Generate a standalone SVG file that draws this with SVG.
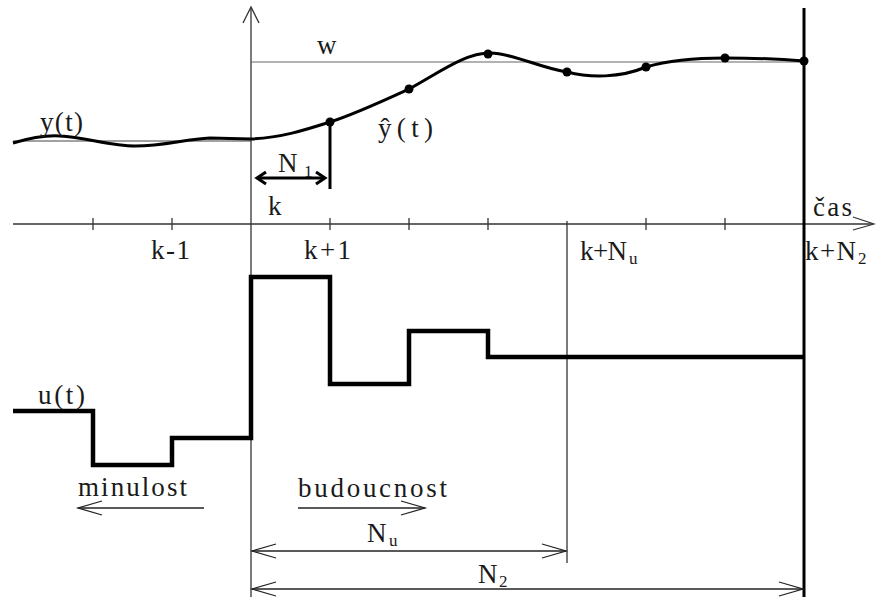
<svg xmlns="http://www.w3.org/2000/svg" width="876" height="597" viewBox="0 0 876 597">
<style>
text{font-family:'Liberation Serif','Times New Roman',serif;fill:#1a1a1a}
.t{font-size:27px}
.s{font-size:17px}
.thin{stroke:#333;stroke-width:1.3;fill:none}
.thick{stroke:#000;stroke-width:3;fill:none;stroke-linejoin:round}
.step{stroke:#000;stroke-width:4.5;fill:none;stroke-linejoin:miter}
</style>
<defs>
<marker id="open" markerUnits="userSpaceOnUse" markerWidth="30" markerHeight="20" viewBox="0 0 30 20" refX="25" refY="10" orient="auto-start-reverse">
<path d="M1,3 L25,10 L1,17" fill="none" stroke="#222" stroke-width="1.3"/>
</marker>
<marker id="bold" markerUnits="userSpaceOnUse" markerWidth="16" markerHeight="16" viewBox="0 0 16 16" refX="12" refY="8" orient="auto-start-reverse">
<path d="M3,2 L12,8 L3,14" fill="none" stroke="#000" stroke-width="3"/>
</marker>
</defs>
<rect width="876" height="597" fill="#fff"/>

<g id="axes">
<line class="thin" x1="13" y1="224" x2="873" y2="224"/>
<path class="thin" d="M853,217 L874,224 L853,230"/>
<line class="thin" x1="251" y1="8" x2="251" y2="597"/>
<path class="thin" d="M243,23 L251,7 L259,23"/>
<g class="thin">
<line x1="93" y1="218" x2="93" y2="230"/>
<line x1="172" y1="218" x2="172" y2="230"/>
<line x1="330" y1="218" x2="330" y2="230"/>
<line x1="409" y1="218" x2="409" y2="230"/>
<line x1="488" y1="218" x2="488" y2="230"/>
<line x1="646" y1="218" x2="646" y2="230"/>
<line x1="725" y1="218" x2="725" y2="230"/>
</g>
<line x1="251" y1="62" x2="804" y2="62" stroke="#666" stroke-width="1.2"/>
<line x1="804" y1="8" x2="804" y2="597" stroke="#000" stroke-width="3"/>
<line class="thin" x1="567" y1="221" x2="567" y2="563"/>
</g>

<g id="output">
<line x1="13" y1="141" x2="251" y2="141" stroke="#444" stroke-width="1"/>
<path class="thick" d="M13,143 C30,138 45,135 60,136 C85,137 110,146 135,146 C165,146 185,139 210,138 L251,139"/>
<path class="thick" d="M251,139 C280,138 305,130 330,122 C355,114 385,100 409,89 C440,72 465,53 490,53 C512,53 540,68 567,72 C590,78 620,78 646,67 C670,60 700,58 725,58 C755,58 780,59 804,61"/>
<g fill="#000">
<circle cx="330" cy="122" r="4.5"/>
<circle cx="409" cy="89" r="4.5"/>
<circle cx="488" cy="54" r="4.5"/>
<circle cx="567" cy="72" r="4.5"/>
<circle cx="646" cy="67" r="4.5"/>
<circle cx="725" cy="58" r="4.5"/>
<circle cx="804" cy="61" r="4.5"/>
</g>
<line x1="330" y1="122" x2="330" y2="189" stroke="#000" stroke-width="3"/>
</g>

<g id="input">
<path class="step" d="M13,411 H93 V465 H172 V438 H251 V277 H330 V384 H409 V331 H488 V357 H804"/>
</g>

<g id="connectors">
<line x1="257" y1="178" x2="325" y2="178" stroke="#000" stroke-width="3" marker-start="url(#bold)" marker-end="url(#bold)"/>
<line x1="78" y1="508" x2="204" y2="508" stroke="#222" stroke-width="1.3" marker-start="url(#open)"/>
<line x1="298" y1="508" x2="425" y2="508" stroke="#222" stroke-width="1.3" marker-end="url(#open)"/>
<line x1="252" y1="551" x2="566" y2="551" stroke="#222" stroke-width="1.3" marker-start="url(#open)" marker-end="url(#open)"/>
<line x1="252" y1="589" x2="803" y2="589" stroke="#222" stroke-width="1.3" marker-start="url(#open)" marker-end="url(#open)"/>
</g>

<g id="labels">
<text class="t" x="40" y="131" font-size="25" textLength="43">y(t)</text>
<text class="t" x="317" y="54">w</text>
<text class="t" x="378" y="137" textLength="55">ŷ(t)</text>
<text class="t" x="278" y="172">N</text><text class="s" x="304" y="177">1</text>
<text class="t" x="268" y="215">k</text>
<text class="t" x="813" y="216" textLength="39">čas</text>
<text class="t" x="151" y="259" textLength="39">k-1</text>
<text class="t" x="304" y="259" textLength="47">k+1</text>
<text class="t" x="580" y="260" textLength="47">k+N</text><text class="s" x="629" y="264">u</text>
<text class="t" x="805" y="260" textLength="51">k+N</text><text class="s" x="858" y="264">2</text>
<text class="t" x="38" y="404" textLength="47">u(t)</text>
<text class="t" x="78" y="496" textLength="109">minulost</text>
<text class="t" x="298" y="497" textLength="149">budoucnost</text>
<text class="t" x="367" y="542">N</text><text class="s" x="389" y="546">u</text>
<text class="t" x="478" y="583">N</text><text class="s" x="499" y="587">2</text>
</g>
</svg>
